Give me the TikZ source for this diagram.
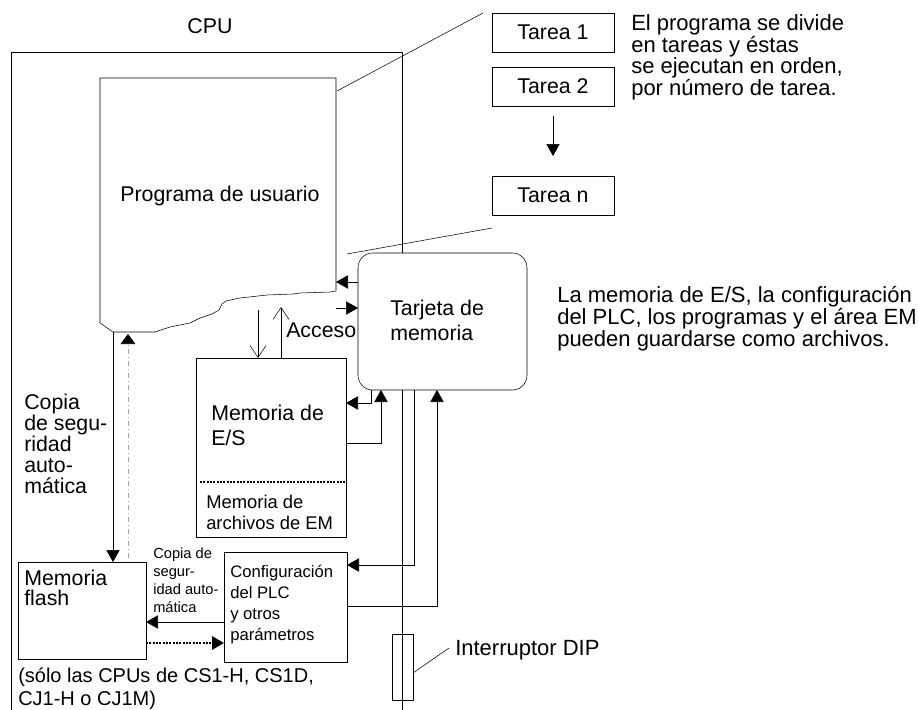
\documentclass[tikz,border=0pt]{standalone}
\usepackage{fontspec}
\setmainfont{Liberation Sans}
\usetikzlibrary{arrows.meta}
\usetikzlibrary{positioning}
\newcommand{\txtsize}[2]{\fontsize{#1}{#2}\selectfont}
\tikzset{x=0.75pt,y=-0.75pt,line width=1.3pt,
  box/.style={draw,anchor=north west,inner sep=0pt,outer sep=0pt},
  tbox/.style={box,minimum width=91.5pt,minimum height=29.25pt,font=\txtsize{16}{18}},
  txt/.style={anchor=west,align=left,inner sep=0pt,font=\txtsize{16}{15.75}},
  arr/.style={-{Triangle[length=9pt,width=10pt]}},
  openarr/.style={-{Straight Barb[length=9pt,width=12pt]}},
  dotline/.style={dash pattern=on 1.5pt off 1pt}}

\begin{document}
\begin{tikzpicture}
    \useasboundingbox (0,0) rectangle (918,710);
    \node[txt,anchor=center] (cpu) at (210,26) {CPU};
    % user program
    \coordinate (ptl) at (100,78);
    \coordinate (ptr) at (336,78);
    \coordinate (pb) at (113,332);
    \draw (ptr) -- (336,291) -- (330,292) -- (300,293) -- (293,294) -- (267,295)
        -- (240,298) -- (226,301) -- (222,304) -- (219,310) -- (212,314) -- (200,318)
        -- (190,323) -- (170,327) -- (155,332) -- (pb) -- (100,323) -- (ptl) -- cycle;
    \node[txt,anchor=center] (prog) at (220,196) {Programa de usuario};
    % tasks
    \node[tbox] (t1) at (492,13) {Tarea 1};
    \node[tbox,below=11.25pt of t1] (t2) {Tarea 2};
    \node[tbox,below=52.5pt of t2] (tn) {Tarea n};
    \draw[arr,shorten <=7.5pt,shorten >=15pt] (t2) -- (tn);
    \draw (337,91) -- ([xshift=-6.75pt]t1.north west);
    \draw (347,254) -- ([yshift=-9.75pt]tn.south west);
    \node[txt,font=\txtsize{16.5}{15.4}] (tnote) at (631,57.5)
        {El programa se divide\\en tareas y éstas\\se ejecutan en orden,\\por número de tarea.};
    % memory card
    \node[box,rounded corners=11pt,minimum width=126.75pt,minimum height=102.75pt] (card) at (358,253) {};
    \node[txt,font=\txtsize{16}{18.75}] (cardtxt) at (390,320) {Tarjeta de\\memoria};
    \node[txt,font=\txtsize{16.5}{15}] (cnote) at (557,319)
        {La memoria de E/S, la configuración\\del PLC, los programas y el área EM\\pueden guardarse como archivos.};
    % CPU frame
    \draw (card.north -| 402,0) -- (402,52) -| (11,710);
    \draw (card.south -| 402,0) -- (402,710);
    \draw[arr] (card.west |- 0,282) -- (ptr |- 0,282);
    \draw[arr] (ptr |- 0,308) -- (card.west |- 0,308);
    % I/O memory
    \node[box,minimum width=112.5pt,minimum height=134.25pt] (es) at (196,358) {};
    \draw[dotline,line width=1.6pt] (200,482) -- (es.east |- 0,482);
    \node[txt,font=\txtsize{16}{18.75}] (estxt) at (211,425.5) {Memoria de\\E/S};
    \node[txt,font=\txtsize{13.8}{15.75}] (emtxt) at (206,512.5) {Memoria de\\archivos de EM};
    \draw[openarr] (258,310) -- (es.north -| 258,0);
    \draw[openarr] (es.north -| 281,0) -- (281,307);
    \node[txt] (acc) at (286,330) {Acceso};
    \draw[arr] (card.south -| 371,0) |- (es.east |- 0,403);
    \draw[arr] (es.east |- 0,443) -| (card.south -| 381,0);
    % PLC setup
    \node[box,minimum width=92.25pt,minimum height=82.5pt] (cfg) at (224,552) {};
    \node[txt,font=\txtsize{12.5}{15.75}] (cfgtxt) at (230,605) {Configuración\\del PLC\\y otros\\parámetros};
    \draw[arr] (card.south -| 414,0) |- (cfg.east |- 0,565);
    \draw[arr] (cfg.east |- 0,606) -| (card.south -| 437,0);
    % flash memory
    \node[box,minimum width=96pt,minimum height=72.75pt] (fl) at (18,562) {};
    \node[txt,font=\txtsize{16}{15}] (fltxt) at (24,588) {Memoria\\flash};
    \draw[arr] (cfg.west |- 0,622) -- (fl.east |- 0,622);
    \draw[arr,dotline,line width=1.5pt] (fl.east |- 0,643) -- (cfg.west |- 0,643);
    \node[txt,font=\txtsize{11}{13.5}] (bk2) at (153,580) {Copia de\\segur-\\idad auto-\\mática};
    \draw[arr] (pb) -- (fl.north -| pb);
    \draw[gray!70,line width=0.5pt,dash pattern=on 4pt off 2pt on 1pt off 2pt,
        -{Triangle[length=7.5pt,width=11pt,color=black]},shorten <=3pt] (fl.north -| 128,0) -- (128,334);
    \node[txt] (bk1) at (24,443.5) {Copia\\de segu-\\ridad\\auto-\\mática};
    \node[txt,font=\txtsize{15}{17.25}] (only) at (18,688.5) {(sólo las CPUs de CS1-H, CS1D,\\CJ1-H o CJ1M)};
    % DIP switch
    \node[box,minimum width=15.75pt,minimum height=49.5pt] (dip) at (392,634) {};
    \node[txt,font=\txtsize{16.5}{15}] (diptxt) at (455,650) {Interruptor DIP};
    \draw (dip.east |- 0,673) -- (449,648);
\end{tikzpicture}
\end{document}
